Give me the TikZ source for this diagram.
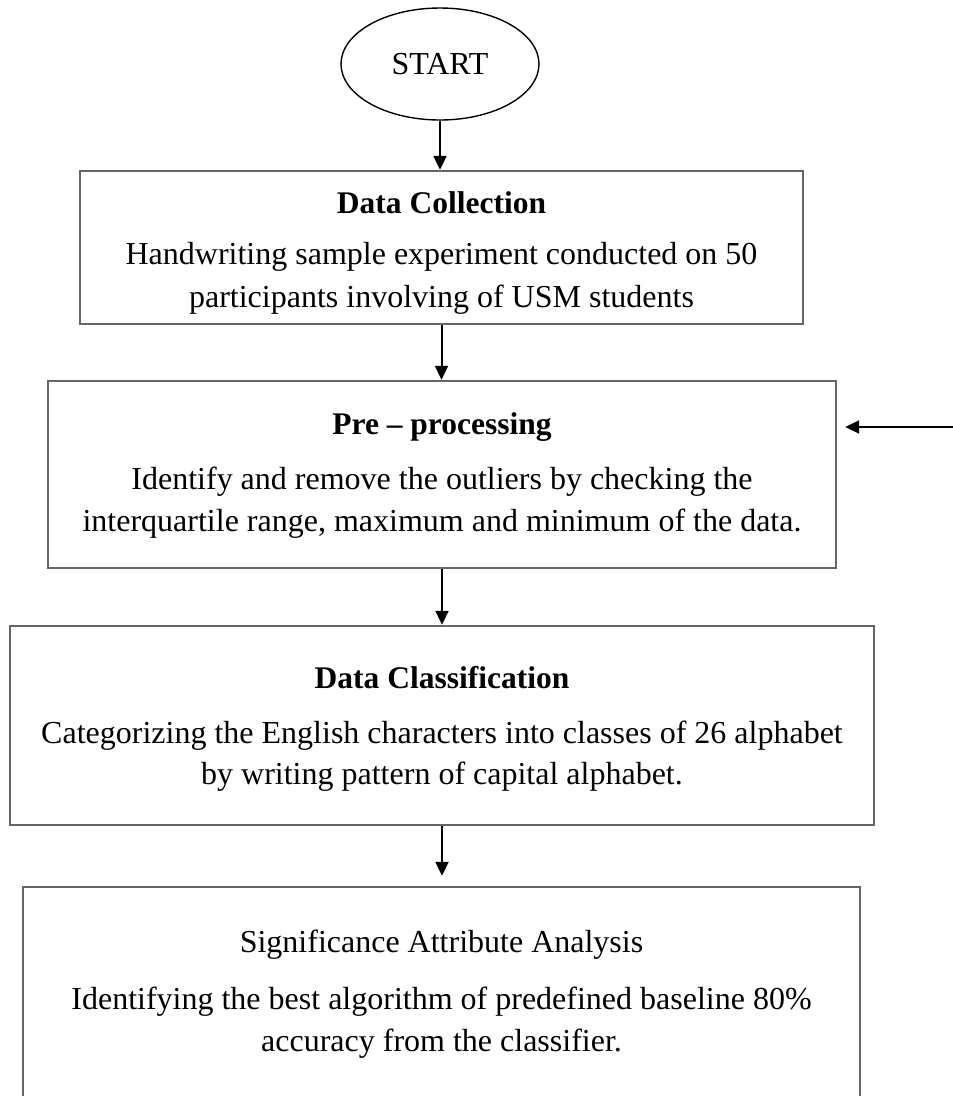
\documentclass[tikz,border=0pt]{standalone}
\usepackage{fontspec}
\setmainfont{Liberation Serif}
\usetikzlibrary{shapes.geometric,arrows.meta}
\begin{document}
\begin{tikzpicture}[x=1pt,y=-1pt,
  box/.style={draw=black!60, line width=2.4pt, rectangle, inner sep=0pt},
  txt/.style={font=\fontsize{32}{38}\selectfont, inner sep=0pt},
  ttl/.style={font=\fontsize{31.5}{38}\selectfont\bfseries, inner sep=0pt},
  arr/.style={-{Triangle[width=13pt,length=14pt]}, line width=2pt, black}]
\clip (0,0) rectangle (953,1096);
\fill[white] (0,0) rectangle (953,1096);

\node[draw, ellipse, line width=1.4pt, minimum width=198pt, minimum height=112pt, inner sep=0pt, txt] (start) at (440,64) {START};

\node[box, minimum width=723pt, minimum height=153pt] (b1) at (441.5,247.5) {};
\node[ttl] (b1t) at (441.5,203) {Data Collection};
\node[txt] (b1a) at (441.5,257) {Handwriting sample experiment conducted on 50};
\node[txt] (b1b) at (441.5,300) {participants involving of USM students};

\node[box, minimum width=788pt, minimum height=187pt] (b2) at (442,474.5) {};
\node[ttl] (b2t) at (442,427) {Pre -- processing};
\node[txt] (b2a) at (442,482) {Identify and remove the outliers by checking the};
\node[txt] (b2b) at (442,524) {interquartile range, maximum and minimum of the data.};

\node[box, minimum width=864pt, minimum height=199pt] (b3) at (442,725.5) {};
\node[ttl] (b3t) at (442,678) {Data Classification};
\node[txt] (b3a) at (442,736) {Categorizing the English characters into classes of 26 alphabet};
\node[txt] (b3b) at (442,777) {by writing pattern of capital alphabet.};

\node[box, minimum width=837pt, minimum height=223pt] (b4) at (441.5,998.5) {};
\node[txt] (b4t) at (441.5,945) {Significance Attribute Analysis};
\node[txt] (b4a) at (441.5,1002) {Identifying the best algorithm of predefined baseline 80\%};
\node[txt] (b4b) at (441.5,1044) {accuracy from the classifier.};

\coordinate (ext) at (953,427);

\draw[arr] (start.south) -- (start.south |- b1.north);
\draw[arr] (b1.south) -- (b1.south |- b2.north);
\draw[arr] (b2.south) -- (b2.south |- b3.north);
\draw[arr, shorten >=10pt] (b3.south) -- (b3.south |- b4.north);
\draw[arr, shorten >=8pt] (ext) -- (ext -| b2.east);
\end{tikzpicture}
\end{document}
